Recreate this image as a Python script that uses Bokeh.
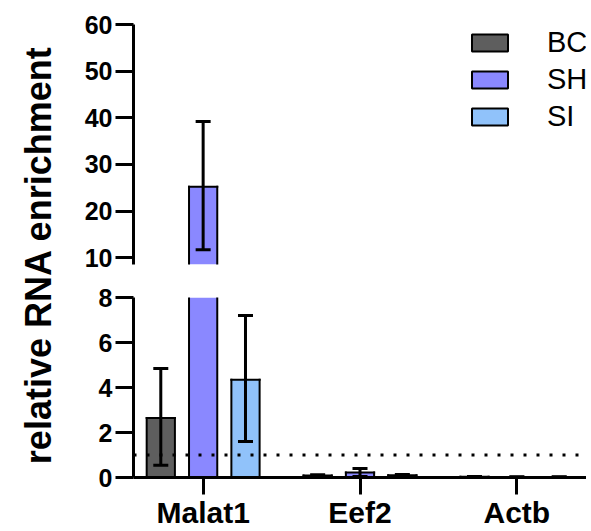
import math
from bokeh.plotting import figure
from bokeh.layouts import row, column
from bokeh.models import (ColumnDataSource, Range1d, FixedTicker, Span, Label, Legend, LegendItem,
                          CDSView, BooleanFilter)
from bokeh.transform import dodge
from bokeh.embed import file_html
from bokeh.resources import INLINE

# ---------------- data ----------------
genes = ["Malat1", "Eef2", "Actb"]
groups = ["BC", "SH", "SI"]
bc_mean = [2.65, 0.09, 0.03]
bc_low = [0.55, 0.06, 0.02]
bc_high = [4.85, 0.12, 0.04]
sh_mean = [25.2, 0.22, 0.02]
sh_low = [11.7, 0.05, 0.01]
sh_high = [39.2, 0.40, 0.03]
si_mean = [4.35, 0.10, 0.02]
si_low = [1.6, 0.07, 0.01]
si_high = [7.2, 0.13, 0.03]
upper_ticks = [10, 20, 30, 40, 50, 60]
lower_ticks = [0, 2, 4, 6, 8]
baseline = 1
y_title = "relative  RNA enrichment"

colors = {"BC": "#5E5E5E", "SH": "#8A88FF", "SI": "#90C2FA"}
offsets = {"BC": -0.27, "SH": 0.0, "SI": 0.27}
series = {
    "BC": (bc_mean, bc_low, bc_high),
    "SH": (sh_mean, sh_low, sh_high),
    "SI": (si_mean, si_low, si_high),
}

FONT = "Liberation Sans"
BAR_W = 0.18
xr = (-0.444, 2.444)
LEFT_W = 60
FIG_W = 526


def make_fig(height, yrange, ticks, top, bottom, show_x):
    p = figure(width=FIG_W, height=height, output_backend="svg", toolbar_location=None,
               x_range=Range1d(*xr), y_range=Range1d(*yrange),
               x_axis_location="below" if show_x else None,
               min_border_left=73, min_border_right=0,
               min_border_top=top, min_border_bottom=bottom)
    p.outline_line_color = None
    p.xgrid.visible = False
    p.ygrid.visible = False
    p.background_fill_color = None
    p.border_fill_color = None
    ya = p.yaxis[0]
    ya.ticker = FixedTicker(ticks=ticks)
    ya.minor_tick_line_color = None
    ya.major_tick_in = 0
    ya.major_tick_out = 18
    ya.major_tick_line_width = 3
    ya.axis_line_width = 3
    ya.axis_line_color = "black"
    ya.major_tick_line_color = "black"
    ya.major_label_text_font = FONT
    ya.major_label_text_font_style = "bold"
    ya.major_label_text_font_size = "25px"
    ya.major_label_text_color = "black"
    ya.major_label_standoff = 3
    if show_x:
        xa = p.xaxis[0]
        xa.ticker = FixedTicker(ticks=list(range(len(genes))))
        xa.major_label_overrides = {i: g for i, g in enumerate(genes)}
        xa.minor_tick_line_color = None
        xa.major_tick_in = 0
        xa.major_tick_out = 17
        xa.major_tick_line_width = 3
        xa.axis_line_width = 3
        xa.axis_line_color = "black"
        xa.major_tick_line_color = "black"
        xa.major_label_text_font = FONT
        xa.major_label_text_font_style = "bold"
        xa.major_label_text_font_size = "30px"
        xa.major_label_text_color = "black"
        xa.major_label_standoff = 1
    return p


def draw(p, ymin):
    rends = {}
    for g in groups:
        mean, low, high = series[g]
        off = offsets[g]
        src = ColumnDataSource(dict(x=list(range(len(genes))), top=mean, low=low, high=high,
                                    zero=[0] * len(genes)))
        view = CDSView(filter=BooleanFilter([m > ymin for m in mean]))
        p.vbar(x=dodge("x", off), top="top", bottom=0, width=BAR_W, source=src, view=view,
               fill_color=colors[g], line_color=None)
        # hidden twin with outline, used only for the legend swatch
        rends[g] = p.vbar(x=dodge("x", off), top="top", bottom=0, width=BAR_W, source=src,
                          fill_color=colors[g], line_color="black", line_width=2, visible=False)
        # bar outline (drawn as segments so broken edges stay open)
        for side in (-BAR_W / 2, BAR_W / 2):
            p.segment(x0=dodge("x", off + side), x1=dodge("x", off + side), y0="zero", y1="top",
                      source=src, line_color="black", line_width=2, line_cap="square")
        p.segment(x0=dodge("x", off - BAR_W / 2), x1=dodge("x", off + BAR_W / 2), y0="top", y1="top",
                  source=src, line_color="black", line_width=2, line_cap="square")
        # error bars
        p.segment(x0=dodge("x", off), x1=dodge("x", off), y0="low", y1="high",
                  source=src, line_color="black", line_width=3)
        p.scatter(x=dodge("x", off), y="low", source=src, marker="dash", size=15,
                  line_color="black", line_width=3)
        p.scatter(x=dodge("x", off), y="high", source=src, marker="dash", size=15,
                  line_color="black", line_width=3)
    return rends


# upper panel (broken axis: 10-60)
UP_MIN = 8.55
p_up = make_fig(272, (UP_MIN, 60), upper_ticks, 24, 8, False)
legend_rends = draw(p_up, UP_MIN)
legend = Legend(items=[LegendItem(label=g, renderers=[legend_rends[g]]) for g in groups],
                location=(334, 131), click_policy="none")
legend.border_line_color = None
legend.background_fill_alpha = 0
legend.glyph_width = 45
legend.glyph_height = 21
legend.label_text_font = FONT
legend.label_text_font_size = "29px"
legend.label_text_color = "black"
legend.label_standoff = 35
legend.spacing = 4
legend.padding = 0
legend.margin = 0
p_up.add_layout(legend)

# lower panel (0-8)
p_low = make_fig(259, (0, 8), lower_ticks, 25, 0, True)
draw(p_low, 0)
p_low.add_layout(Span(location=baseline, dimension="width", line_color="black",
                      line_width=3, line_dash="3 10"))

# y title column
p_t = figure(width=LEFT_W, height=531, output_backend="svg", toolbar_location=None,
             x_range=Range1d(0, 1), y_range=Range1d(0, 1),
             x_axis_location=None, y_axis_location=None, min_border=0)
p_t.outline_line_color = None
p_t.xgrid.visible = False
p_t.ygrid.visible = False
p_t.add_layout(Label(x=0.64, y=0.53, text=y_title, angle=math.pi / 2,
                     text_align="center", text_baseline="middle",
                     text_font=FONT, text_font_style="bold", text_font_size="36px",
                     text_color="black"))

layout = row(p_t, column(p_up, p_low, spacing=0), spacing=0)
open("out.html", "w").write(file_html(layout, INLINE))
